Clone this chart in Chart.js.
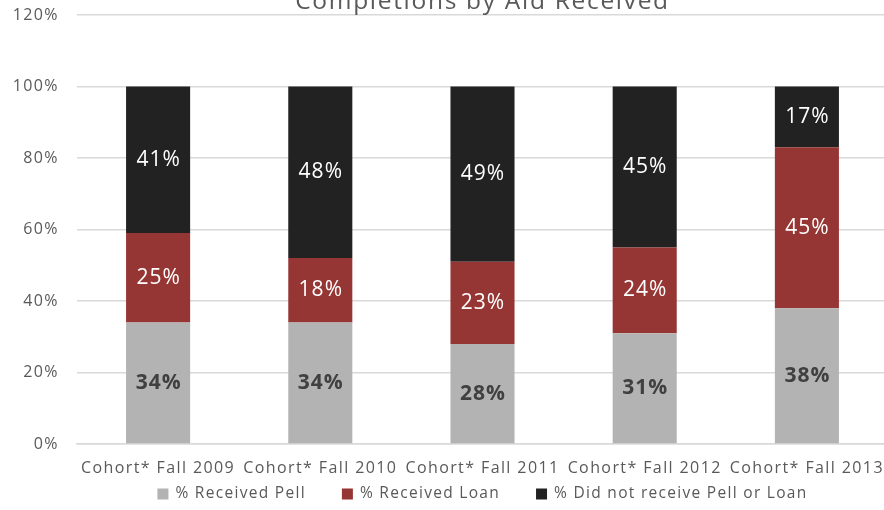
<!DOCTYPE html>
<html><head><meta charset="utf-8">
<script src="https://cdn.jsdelivr.net/npm/chart.js@4"></script>
<style>
html,body{margin:0;padding:0;background:#fff;overflow:hidden;width:884px;height:510px;position:relative}
#wrap{position:absolute;left:0;top:-30px;width:890px;height:540px}
</style></head><body>
<div id="wrap"><canvas id="c" width="890" height="540"></canvas></div>
<script>
const chartTitle = "Completions by Aid Received";
const categories = ["Cohort* Fall 2009", "Cohort* Fall 2010", "Cohort* Fall 2011", "Cohort* Fall 2012", "Cohort* Fall 2013"];
const seriesNames = ["% Received Pell", "% Received Loan", "% Did not receive Pell or Loan"];
const pell = [34, 34, 28, 31, 38];
const loan = [25, 18, 23, 24, 45];
const noAid = [41, 48, 49, 45, 17];
const yTickValues = [0, 20, 40, 60, 80, 100, 120];

const colors = ["#b3b3b3", "#963634", "#222222"];
const labelColors = ["#404040", "#ffffff", "#ffffff"];
const labelWeights = ["bold", "normal", "normal"];
const FONT = "'Open Sans', sans-serif";
const TEXT = "#595959";

const spacing = {
  id: 'spacing',
  beforeLayout(chart) { chart.ctx.letterSpacing = '1.4px'; },
  beforeDraw(chart) { chart.ctx.letterSpacing = '1.4px'; }
};

const segLabels = {
  id: 'segLabels',
  afterDatasetsDraw(chart) {
    const ctx = chart.ctx;
    chart.data.datasets.forEach((ds, di) => {
      const meta = chart.getDatasetMeta(di);
      meta.data.forEach((el, i) => {
        const p = el.getProps(['x', 'y', 'base'], true);
        ctx.save();
        ctx.letterSpacing = '1px';
        ctx.font = labelWeights[di] + " 21px " + FONT;
        ctx.fillStyle = labelColors[di];
        ctx.textAlign = 'center';
        ctx.textBaseline = 'middle';
        ctx.fillText(ds.data[i] + '%', p.x + 0.5, (p.y + p.base) / 2);
        ctx.restore();
      });
    });
  }
};

const titleAndLegend = {
  id: 'titleAndLegend',
  afterDraw(chart) {
    const ctx = chart.ctx;
    const ca = chart.chartArea;
    const cx = (ca.left + ca.right) / 2;
    ctx.save();
    ctx.letterSpacing = '1.7px';
    ctx.font = "24.5px " + FONT;
    ctx.fillStyle = TEXT;
    ctx.textAlign = 'center';
    ctx.textBaseline = 'alphabetic';
    ctx.fillText(chartTitle, cx, ca.top - 6);
    // legend
    ctx.font = "15.5px " + FONT;
    ctx.letterSpacing = "1.3px";
    const box = 11, gapBox = 7, gapItem = 36;
    const items = chart.data.datasets.map((ds, i) => ({ text: ds.label, color: ds.backgroundColor, w: ctx.measureText(ds.label).width }));
    let total = 0;
    items.forEach((it, i) => { total += box + gapBox + it.w + (i < items.length - 1 ? gapItem : 0); });
    let x = cx - total / 2;
    const y = 524;
    ctx.textAlign = 'left';
    ctx.textBaseline = 'middle';
    items.forEach(it => {
      ctx.fillStyle = it.color;
      ctx.fillRect(x, y - box / 2, box, box);
      x += box + gapBox;
      ctx.fillStyle = TEXT;
      ctx.fillText(it.text, x, y);
      x += it.w + gapItem;
    });
    ctx.restore();
  }
};

new Chart(document.getElementById('c'), {
  type: 'bar',
  data: {
    labels: categories,
    datasets: [
      { label: seriesNames[0], data: pell, backgroundColor: colors[0] },
      { label: seriesNames[1], data: loan, backgroundColor: colors[1] },
      { label: seriesNames[2], data: noAid, backgroundColor: colors[2] }
    ]
  },
  options: {
    responsive: false,
    animation: false,
    devicePixelRatio: 1,
    layout: { padding: { top: 45, right: 2, bottom: 0, left: 0 } },
    datasets: { bar: { categoryPercentage: 1, barPercentage: 0.395, borderWidth: 0 } },
    plugins: { legend: { display: false }, tooltip: { enabled: false }, title: { display: false } },
    scales: {
      x: {
        stacked: true,
        grid: { display: false, drawTicks: false },
        border: { display: true, color: '#d9d9d9', width: 1.5 },
        ticks: { color: TEXT, font: { family: FONT, size: 16 }, padding: 15, maxRotation: 0, autoSkip: false },
        afterFit(s) { s.height = 66; s.paddingLeft = 0; s.paddingRight = 0; }
      },
      y: {
        stacked: true,
        min: 0, max: 120,
        afterBuildTicks(s) { s.ticks = yTickValues.map(v => ({ value: v })); },
        grid: { color: '#d9d9d9', lineWidth: 1.5, drawTicks: false },
        border: { display: false },
        ticks: { color: TEXT, font: { family: FONT, size: 16 }, padding: 18, callback: v => v + '%' },
        afterFit(s) { s.width = 77; s.paddingTop = 0; s.paddingBottom = 0; }
      }
    }
  },
  plugins: [spacing, segLabels, titleAndLegend]
});
</script>
</body></html>
